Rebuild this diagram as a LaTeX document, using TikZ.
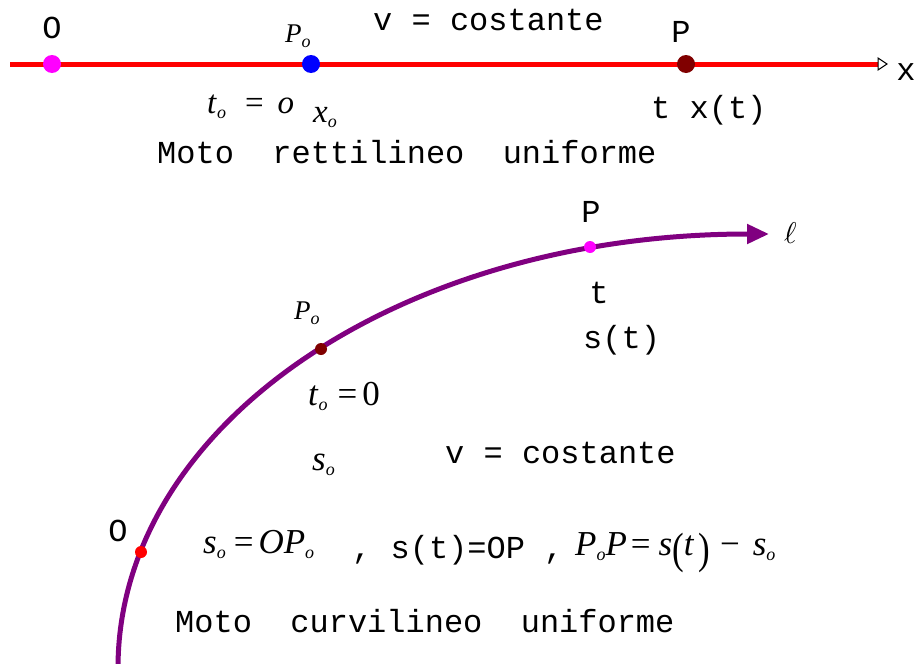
\documentclass[tikz,border=0pt]{standalone}
\usepackage{fontspec}
\setmainfont{Liberation Serif}
\setmonofont{Liberation Mono}
\usetikzlibrary{arrows.meta}
\definecolor{pmag}{RGB}{255,0,255}
\definecolor{pblue}{RGB}{0,0,255}
\definecolor{pdark}{RGB}{128,0,0}
\definecolor{ppurp}{RGB}{128,0,128}
\newcommand{\sbo}{\raisebox{-5pt}{\fontsize{18}{18}\selectfont\itshape o}}
\newcommand{\bigpar}[1]{\raisebox{-8pt}{\scalebox{1}[1.25]{#1}}}
\begin{document}
\begin{tikzpicture}[x=1pt,y=-1pt,
  mono/.style={font=\ttfamily\fontsize{32}{36}\selectfont, inner sep=0pt},
  mth/.style={font=\fontsize{35}{38}\selectfont, inner sep=0pt},
  mtht/.style={font=\fontsize{33}{36}\selectfont, inner sep=0pt},
  mthp/.style={font=\fontsize{27}{30}\selectfont, inner sep=0pt},
  bigdot/.style={circle, inner sep=0pt, minimum size=18pt},
  smalldot/.style={circle, inner sep=0pt, minimum size=12pt}]
\useasboundingbox (0,0) rectangle (919,664);
% ---- top: straight motion ----
\coordinate (a0) at (10,64);
\coordinate (a1) at (878,64);
\draw[red, line width=5pt] (a0) -- (a1);
\draw[black, line width=1pt, fill=white] (878,58) -- (887,64) -- (878,70) -- cycle;
\node[bigdot, fill=pmag] (O1) at (52,64) {};
\node[bigdot, fill=pblue] (P01) at (311,64) {};
\node[bigdot, fill=pdark] (P1) at (686,64) {};
\node[mono, anchor=base] (lO1) at (52,38) {O};
\node[mthp, anchor=base west] (lP01) at (285,42) {\textit{P}\sbo};
\node[mono, anchor=base west] (lv1) at (373,30) {v = costante};
\node[mono, anchor=base] (lP1) at (681,42) {P};
\node[mono, anchor=base] (lx) at (906,80) {x};
\node[mtht, anchor=base west] (lt0) at (207,113) {\textit{t}\sbo\hspace{19pt}=\hspace{14pt}\textit{o}};
\node[mtht, anchor=base west] (lx0) at (313,122) {\textit{x}\sbo};
\node[mono, anchor=base west] (ltx) at (651,118) {t x(t)};
\node[mono, anchor=base west] (lm1) at (157,163) {Moto~~rettilineo~~uniforme};
% ---- bottom: curvilinear motion ----
\coordinate (c0) at (118,668);
\coordinate (c1) at (769,234);
\draw[ppurp, line width=5pt, -{Triangle[length=22pt,width=19pt]}]
  (c0) .. controls (118,425) and (400,234) .. (c1);
\node[smalldot, fill=pmag] (P2) at (590,247) {};
\node[smalldot, fill=pdark] (P02) at (321,349) {};
\node[smalldot, fill=red] (O2) at (141,552) {};
\node[anchor=base west, inner sep=0pt] (lell) at (784,243) {\scalebox{3}{$\ell$}};
\node[mono, anchor=base] (lP2) at (591,222) {P};
\node[mthp, anchor=base west] (lP02) at (294,319) {\textit{P}\sbo};
\node[mono, anchor=base] (lt2) at (599,303) {t};
\node[mono, anchor=base west] (lst) at (583,348) {s(t)};
\node[mth, anchor=base west] (lt02) at (308,405) {\textit{t}\sbo\hspace{10pt}=\hspace{5pt}0};
\node[mth, anchor=base west] (ls0) at (312,470) {\textit{s}\sbo};
\node[mono, anchor=base west] (lv2) at (445,463) {v = costante};
\node[mono, anchor=base] (lO2) at (118,541) {O};
\node[mth, anchor=base west] (lso) at (203,553) {\textit{s}\sbo\hspace{8pt}=\hspace{5pt}\textit{OP}\sbo};
\node[mono, anchor=base west] (lsOP) at (352,558) {, s(t)=OP ,};
\node[mth, anchor=base west] (lPP) at (575,555) {\textit{P}\sbo\textit{P}\hspace{4pt}=\hspace{8pt}\textit{s}\bigpar{(}\textit{t}\hspace{4pt}\bigpar{)}\hspace{10pt}−\hspace{13pt}\textit{s}\sbo};
\node[mono, anchor=base west] (lm2) at (175,632) {Moto~~curvilineo~~uniforme};
\end{tikzpicture}
\end{document}
